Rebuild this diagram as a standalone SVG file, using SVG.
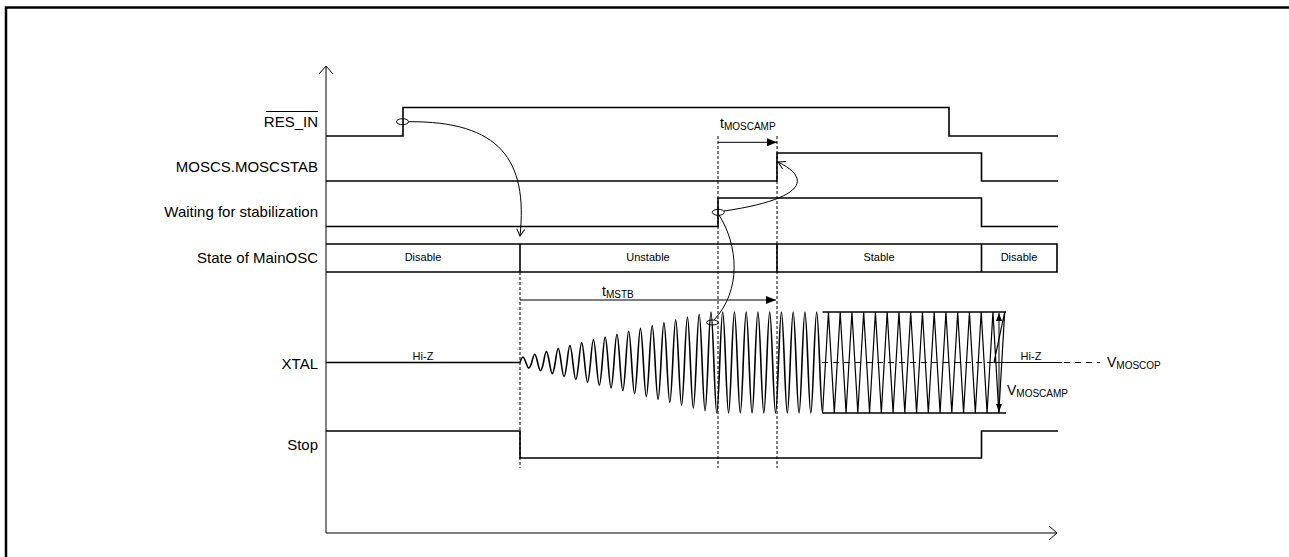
<svg xmlns="http://www.w3.org/2000/svg" width="1289" height="557" viewBox="0 0 1289 557">
<style>
.sig{fill:none;stroke:#000;stroke-width:1.6}
.thin{fill:none;stroke:#000;stroke-width:1}
.vd{fill:none;stroke:#000;stroke-width:1;stroke-dasharray:3,2}
.lbl{font-family:"Liberation Sans",Arial,sans-serif;font-size:15px;fill:#000;text-anchor:end}
.sm{font-family:"Liberation Sans",Arial,sans-serif;font-size:11px;fill:#000;text-anchor:middle}
.tl{font-family:"Liberation Sans",Arial,sans-serif;font-size:14px;fill:#000}
</style>
<defs>
<marker id="axis" markerUnits="userSpaceOnUse" markerWidth="12" markerHeight="18" refX="9" refY="8" orient="auto" overflow="visible"><path d="M1,1 L9,8 L1,15" fill="none" stroke="#000" stroke-width="1"/></marker>
<marker id="open" markerUnits="userSpaceOnUse" markerWidth="10" markerHeight="10" refX="7" refY="4" orient="auto" overflow="visible"><path d="M0,0 L7,4 L0,8" fill="none" stroke="#000" stroke-width="1"/></marker>
<marker id="fill" markerUnits="userSpaceOnUse" markerWidth="12" markerHeight="10" refX="10" refY="4" orient="auto-start-reverse" overflow="visible"><path d="M0,0 L10,4 L0,8 z" fill="#000"/></marker>
<marker id="fillS" markerUnits="userSpaceOnUse" markerWidth="10" markerHeight="8" refX="8" refY="3" orient="auto-start-reverse" overflow="visible"><path d="M0,0 L8,3 L0,6 z" fill="#000"/></marker>
</defs>
<rect width="1289" height="557" fill="#fff"/>
<g id="frame"><path d="M6,557 V7.5 H1289" fill="none" stroke="#000" stroke-width="2.5"/></g>
<g id="axes">
<path class="thin" d="M326,533 V66" marker-end="url(#axis)"/>
<path class="thin" d="M326,533 H1057" marker-end="url(#axis)"/>
</g>
<g id="guides">
<path class="vd" d="M520,272 V468 M718,136 V468 M777,136 V468"/>
</g>
<g id="res_in">
<text class="lbl" x="318" y="127">RES_IN</text>
<path class="thin" d="M266,111.5 H318"/>
<path class="sig" d="M326,136 H403 V107.5 H949 V136 H1058"/>
</g>
<g id="moscstab">
<text class="lbl" x="318" y="172">MOSCS.MOSCSTAB</text>
<path class="sig" d="M326,181 H777 V153 H981.5 V181 H1058"/>
</g>
<g id="waiting">
<text class="lbl" x="318" y="217">Waiting for stabilization</text>
<path class="sig" d="M326,226.5 H718 V198 H981.5 V226.5 H1058"/>
</g>
<g id="state">
<text class="lbl" x="318" y="263">State of MainOSC</text>
<path class="sig" d="M326,244 H1057 V272 H326 M520,244 V272 M777,244 V272 M981.5,244 V272"/>
<text class="sm" x="423" y="261">Disable</text>
<text class="sm" x="648" y="261">Unstable</text>
<text class="sm" x="879" y="261">Stable</text>
<text class="sm" x="1019" y="261">Disable</text>
</g>
<g id="xtal">
<text class="lbl" x="318" y="369">XTAL</text>
<path class="thin" d="M822,362.5 H1100" stroke-dasharray="6,5"/>
<path class="sig" d="M326,362.5 H520
c2.49,-7.33 3.385,-7.33 5.875,0 c2.49,7.33 3.385,7.33 5.875,0
c2.49,-11.07 3.385,-11.07 5.875,0 c2.49,11.07 3.385,11.07 5.875,0
c2.49,-14.8 3.385,-14.8 5.875,0 c2.49,14.8 3.385,14.8 5.875,0
c2.49,-18.8 3.385,-18.8 5.875,0 c2.49,18.8 3.385,18.8 5.875,0
c2.49,-22.53 3.385,-22.53 5.875,0 c2.49,22.53 3.385,22.53 5.875,0
c2.49,-26.27 3.385,-26.27 5.875,0 c2.49,26.27 3.385,26.27 5.875,0
c2.49,-30.27 3.385,-30.27 5.875,0 c2.49,30.27 3.385,30.27 5.875,0
c2.49,-34 3.385,-34 5.875,0 c2.49,34 3.385,34 5.875,0
c2.49,-37.73 3.385,-37.73 5.875,0 c2.49,37.73 3.385,37.73 5.875,0
c2.49,-41.73 3.385,-41.73 5.875,0 c2.49,41.73 3.385,41.73 5.875,0
c2.49,-45.47 3.385,-45.47 5.875,0 c2.49,45.47 3.385,45.47 5.875,0
c2.49,-49.2 3.385,-49.2 5.875,0 c2.49,49.2 3.385,49.2 5.875,0
c2.49,-53.2 3.385,-53.2 5.875,0 c2.49,53.2 3.385,53.2 5.875,0
c2.49,-56.93 3.385,-56.93 5.875,0 c2.49,56.93 3.385,56.93 5.875,0
c2.49,-60.67 3.385,-60.67 5.875,0 c2.49,60.67 3.385,60.67 5.875,0
c2.49,-64.27 3.385,-64.27 5.875,0 c2.49,64.27 3.385,64.27 5.875,0
c2.49,-67.33 3.385,-67.33 5.875,0 c2.49,67.33 3.385,67.33 5.875,0
c2.49,-67.33 3.385,-67.33 5.875,0 c2.49,67.33 3.385,67.33 5.875,0
c2.49,-67.33 3.385,-67.33 5.875,0 c2.49,67.33 3.385,67.33 5.875,0
c2.49,-67.33 3.385,-67.33 5.875,0 c2.49,67.33 3.385,67.33 5.875,0
c2.49,-67.33 3.385,-67.33 5.875,0 c2.49,67.33 3.385,67.33 5.875,0
c2.49,-67.33 3.385,-67.33 5.875,0 c2.49,67.33 3.385,67.33 5.875,0
c2.49,-67.33 3.385,-67.33 5.875,0 c2.49,67.33 3.385,67.33 5.875,0
c2.49,-67.33 3.385,-67.33 5.875,0 c2.49,67.33 3.385,67.33 5.875,0
c2.49,-67.33 3.385,-67.33 5.875,0 c2.49,67.33 3.385,67.33 5.875,0
c2.49,-67.33 3.385,-67.33 5.875,0 c0.98,26.4 1.88,50.5 2.9375,50.5"/>
<path fill="none" stroke="#000" stroke-width="1.2" d="M822.5625,413
l5.875,-101 5.875,101 5.875,-101 5.875,101 5.875,-101 5.875,101 5.875,-101 5.875,101
5.875,-101 5.875,101 5.875,-101 5.875,101 5.875,-101 5.875,101 5.875,-101 5.875,101
5.875,-101 5.875,101 5.875,-101 5.875,101 5.875,-101 5.875,101 5.875,-101 5.875,101
5.875,-101 5.875,101 5.875,-101 5.875,101 5.875,-101 5.875,101 5.875,-101
L994,362.5 H1062"/>
<path class="sig" d="M822.5,312 H1006 M822.5,413 H1006"/>
<text class="sm" x="423" y="360" font-size="12">Hi-Z</text>
<text class="sm" x="1031" y="360" font-size="12">Hi-Z</text>
</g>
<g id="stop">
<text class="lbl" x="318" y="450">Stop</text>
<path class="sig" d="M326,431 H520 V458 H981.5 V431 H1058"/>
</g>
<g id="timing">
<path class="thin" d="M718,142.3 H777" marker-end="url(#fill)"/>
<text class="tl" x="720" y="128">t<tspan font-size="10" dy="2">MOSCAMP</tspan></text>
<path class="thin" d="M520,300 H776" marker-end="url(#fill)"/>
<text class="tl" x="602" y="296">t<tspan font-size="10" dy="2">MSTB</tspan></text>
<path class="thin" d="M999,313 V412" marker-start="url(#fillS)" marker-end="url(#fillS)"/>
<text class="tl" x="1107" y="367">V<tspan font-size="10" dy="2">MOSCOP</tspan></text>
<text class="tl" x="1007" y="395">V<tspan font-size="10" dy="2">MOSCAMP</tspan></text>
</g>
<g id="connectors">
<ellipse class="thin" cx="402.5" cy="121.7" rx="6" ry="3"/>
<ellipse class="thin" cx="718.3" cy="212.3" rx="6" ry="3"/>
<ellipse class="thin" cx="712.5" cy="322.5" rx="6" ry="2.5"/>
<path class="thin" d="M408.5,121.7 C500,121 528,160 520,236" marker-end="url(#open)"/>
<path class="thin" d="M724,211 C800,200 815,180 778,162" marker-end="url(#open)"/>
<path class="thin" d="M714,320 C742,290 738,245 719,215"/>
</g>
</svg>
